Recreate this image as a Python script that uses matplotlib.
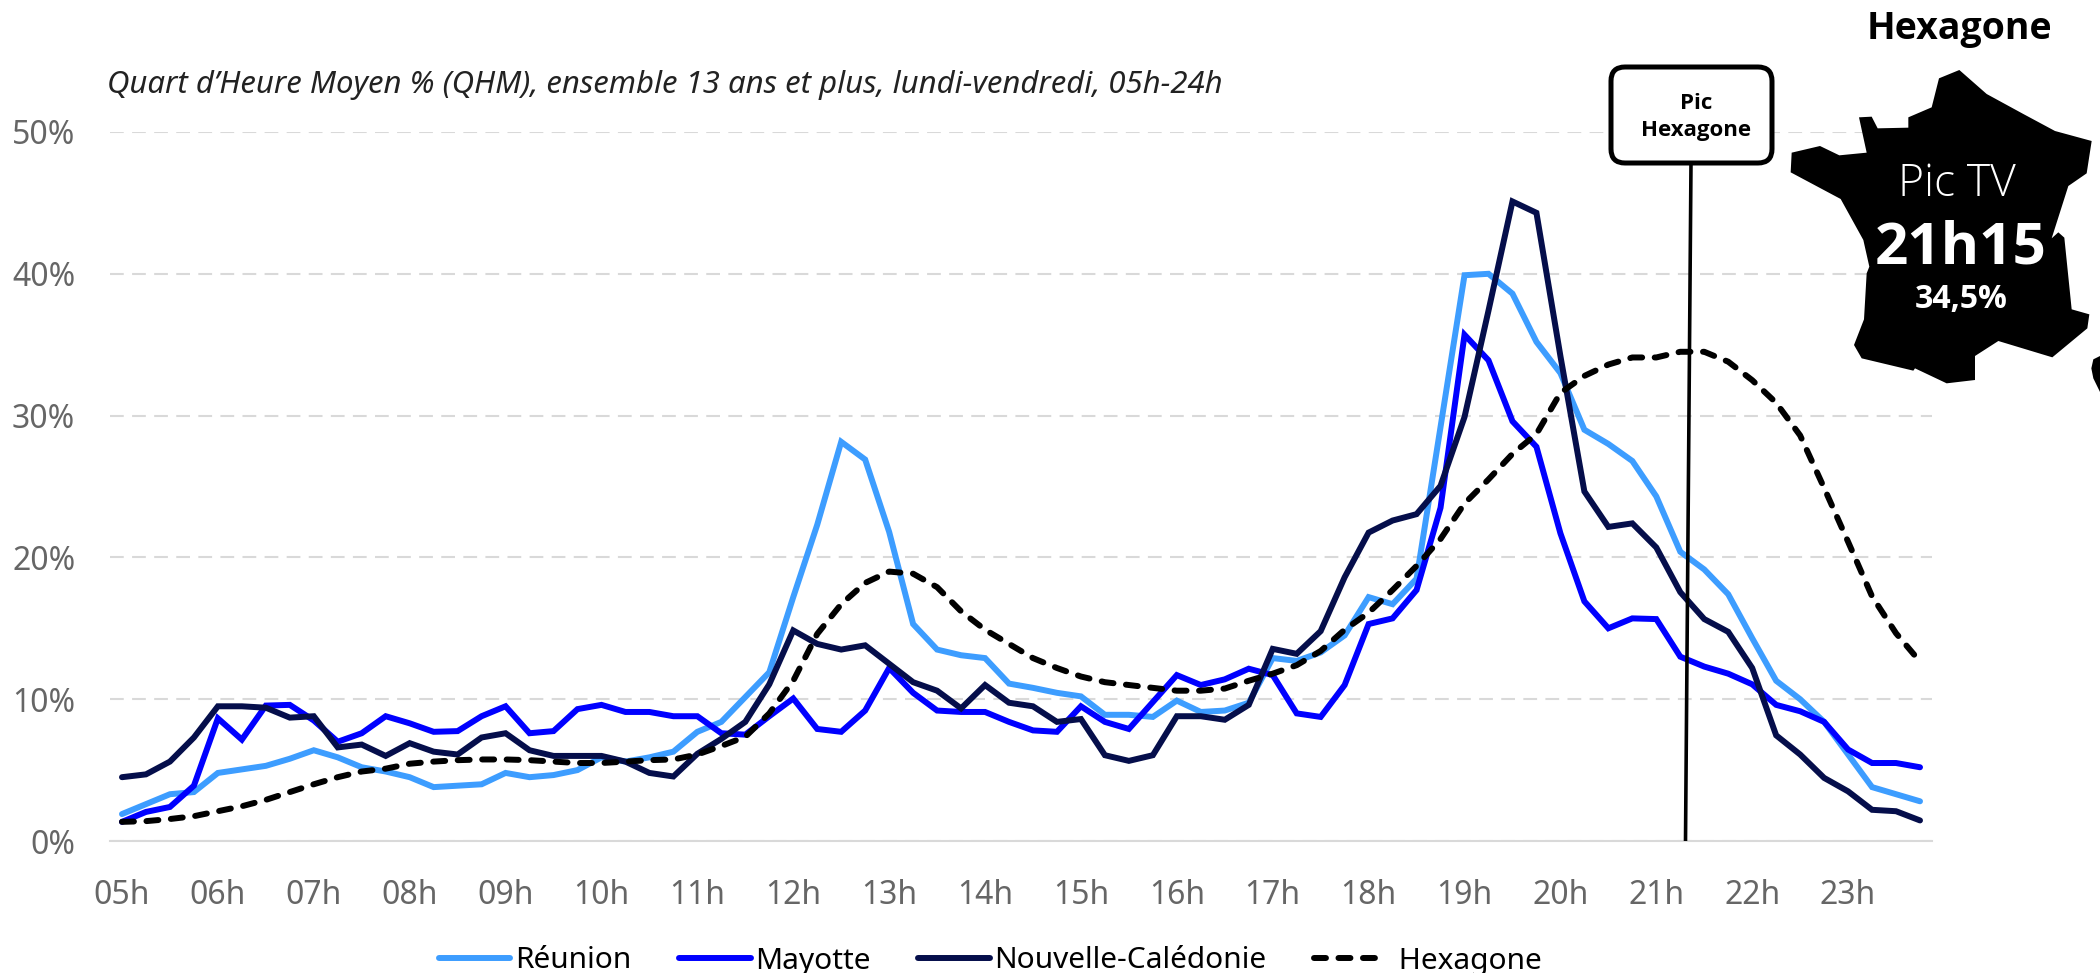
"""Audience TV par quart d'heure: Réunion, Mayotte, Nouvelle-Calédonie, Hexagone."""

import matplotlib
matplotlib.use("Agg")
import matplotlib.pyplot as plt
from matplotlib.patches import FancyBboxPatch, Polygon

plt.rcParams["font.family"] = ["Noto Sans", "DejaVu Sans"]

HOURS = ["05h", "06h", "07h", "08h", "09h", "10h", "11h", "12h", "13h", "14h",
         "15h", "16h", "17h", "18h", "19h", "20h", "21h", "22h", "23h"]
Y_TICKS = [0, 10, 20, 30, 40, 50]

REUNION = [1.9, 2.6, 3.3, 3.45, 4.8, 5.05, 5.3, 5.8, 6.4, 5.9, 5.2, 4.9, 4.5, 3.8, 3.9, 4.0,
           4.8, 4.5, 4.65, 5.0, 5.9, 5.6, 5.9, 6.3, 7.7, 8.4, 10.15, 11.9, 17.2, 22.3, 28.15, 26.9,
           21.8, 15.3, 13.5, 13.1, 12.9, 11.1, 10.8, 10.45, 10.2, 8.9, 8.9, 8.75, 9.9, 9.1,
           9.2, 9.75, 12.9, 12.7, 13.3, 14.5, 17.2, 16.7, 18.5, 29.2, 39.9, 40.0, 38.6, 35.2,
           33.0, 29.0, 28.0, 26.8, 24.3, 20.4, 19.15, 17.4, 14.3, 11.3, 10.0, 8.4, 6.1, 3.8, 3.3, 2.8]
MAYOTTE = [1.35, 2.05, 2.4, 3.9, 8.65, 7.15, 9.55, 9.6, 8.5, 7.0, 7.6, 8.8, 8.3, 7.7, 7.75, 8.8,
           9.5, 7.6, 7.75, 9.3, 9.6, 9.1, 9.1, 8.8, 8.8, 7.6, 7.5, 8.8, 10.05, 7.9, 7.7, 9.2,
           12.2, 10.45, 9.2, 9.1, 9.1, 8.4, 7.8, 7.7, 9.5, 8.4, 7.9, 9.8, 11.7, 11.0,
           11.4, 12.15, 11.7, 9.0, 8.75, 11.0, 15.3, 15.7, 17.7, 23.5, 35.7, 33.9, 29.6, 27.8,
           21.7, 16.9, 15.0, 15.7, 15.65, 13.0, 12.3, 11.8, 11.05, 9.6, 9.15, 8.4, 6.45, 5.5, 5.5, 5.2]
NOUVELLE_CALEDONIE = [4.5, 4.7, 5.6, 7.3, 9.5, 9.5, 9.4, 8.7, 8.8, 6.6, 6.8, 6.0, 6.9, 6.3, 6.1, 7.3,
                      7.6, 6.4, 6.0, 6.0, 6.0, 5.6, 4.8, 4.55, 6.15, 7.2, 8.4, 11.05, 14.85, 13.9, 13.5, 13.8,
                      12.5, 11.2, 10.6, 9.35, 11.0, 9.75, 9.5, 8.4, 8.6, 6.05, 5.65, 6.05, 8.8, 8.8,
                      8.55, 9.6, 13.55, 13.2, 14.8, 18.6, 21.75, 22.6, 23.05, 25.05, 29.9, 37.4, 45.1, 44.3,
                      34.2, 24.65, 22.15, 22.4, 20.7, 17.55, 15.65, 14.75, 12.2, 7.45, 6.1, 4.45, 3.5, 2.2, 2.1, 1.45]
HEXAGONE = [1.35, 1.4, 1.55, 1.75, 2.1, 2.45, 2.9, 3.45, 4.0, 4.5, 4.9, 5.1, 5.45, 5.6, 5.7, 5.75,
            5.75, 5.7, 5.6, 5.5, 5.5, 5.6, 5.7, 5.75, 6.1, 6.7, 7.35, 9.0, 11.3, 14.6, 16.7, 18.2,
            19.0, 18.85, 17.9, 16.2, 14.9, 13.9, 12.9, 12.2, 11.6, 11.2, 11.0, 10.8, 10.6, 10.6,
            10.75, 11.3, 11.8, 12.4, 13.4, 14.9, 16.1, 17.7, 19.4, 21.3, 23.8, 25.5, 27.3, 28.7,
            31.6, 32.8, 33.6, 34.1, 34.1, 34.5, 34.5, 33.8, 32.5, 30.9, 28.6, 24.9, 21.1, 17.25, 14.65, 12.65]
QUARTERS = list(range(len(HEXAGONE)))

W, H = 2100, 973
GRID = "#d9d9d9"
TICK = "#666666"
BOLD = "Open Sans"

FRANCE = [(628, 210), (710, 282), (820, 342), (915, 393), (1025, 423), (1010, 520), (955, 558),
          (905, 715), (925, 697), (943, 713), (965, 928), (1018, 943), (1012, 985), (907, 1072),
          (745, 1023), (675, 1068), (675, 1140), (590, 1150), (495, 1105), (490, 1112), (335, 1075),
          (312, 1035), (342, 958), (350, 820), (358, 800), (340, 720), (272, 597), (122, 517),
          (125, 458), (210, 438), (268, 466), (350, 458), (327, 352), (365, 350), (383, 385),
          (475, 383), (475, 352), (545, 322), (567, 235)]
CORSE = [(1050, 1068), (1030, 1078), (1024, 1105), (1030, 1135), (1050, 1176)]

fig = plt.figure(figsize=(W / 100, H / 100), dpi=100, facecolor="white")
ax = fig.add_axes([110 / W, (H - 841) / H, 1822 / W, 709 / H])

ax.plot(QUARTERS, REUNION, color="#3d9dff", lw=4.3, label="Réunion",
        solid_joinstyle="miter", solid_capstyle="round", clip_on=False, zorder=3)
ax.plot(QUARTERS, MAYOTTE, color="#0000ff", lw=4.3, label="Mayotte",
        solid_joinstyle="miter", solid_capstyle="round", clip_on=False, zorder=4)
ax.plot(QUARTERS, NOUVELLE_CALEDONIE, color="#050e4b", lw=4.3, label="Nouvelle-Calédonie",
        solid_joinstyle="miter", solid_capstyle="round", clip_on=False, zorder=5)
ax.plot(QUARTERS, HEXAGONE, color="black", lw=4.3, label=" Hexagone",
        dashes=(2.0, 2.1), dash_capstyle="round", clip_on=False, zorder=6)

ax.set_xlim(-0.5, 75.5)
ax.set_ylim(0, 50)
ax.set_xticks(QUARTERS[::4], HOURS)
ax.set_yticks(Y_TICKS, [f"{v}%" for v in Y_TICKS])
ax.tick_params(length=0, labelsize=23, labelcolor=TICK)
ax.tick_params(axis="x", pad=27)
ax.tick_params(axis="y", pad=25)
ax.set_axisbelow(True)
for t in ax.get_yticklabels():
    t.set_ha("right")
ax.grid(axis="y", color=GRID, lw=1.5, dashes=(6.6, 4))
for side in ["top", "left", "right"]:
    ax.spines[side].set_visible(False)
ax.spines["bottom"].set_color(GRID)
ax.spines["bottom"].set_linewidth(1.5)

fig.legend(loc="center", bbox_to_anchor=(990 / W, (H - 961) / H), ncol=4, frameon=False,
           fontsize=21.5, handlelength=2.4, handletextpad=0.15, columnspacing=1.6)

# everything hand-placed goes on a pixel overlay
ov = fig.add_axes([0, 0, 1, 1], zorder=10)
ov.set_xlim(0, W)
ov.set_ylim(H, 0)
ov.axis("off")

ov.text(107, 85, "Quart d’Heure Moyen % (QHM), ensemble 13 ans et plus, lundi-vendredi, 05h-24h",
        fontsize=22.4, style="italic", color="#222222", ha="left", va="center")

ov.plot([1691, 1685.5], [163, 841], color="black", lw=2.6, solid_capstyle="butt")
ov.add_patch(FancyBboxPatch((1625, 81), 133, 68, boxstyle="round,pad=14,rounding_size=14",
                            fc="white", ec="black", lw=3.6))
ov.text(1696, 117, "Pic\nHexagone", fontsize=16, fontweight="bold", family=BOLD, ha="center", va="center",
        linespacing=1.4)

ov.add_patch(Polygon([(1750 + x / 3, y / 3) for x, y in FRANCE], closed=True, fc="black", ec="none"))
ov.add_patch(Polygon([(1750 + x / 3, y / 3) for x, y in CORSE], closed=True, fc="black", ec="none"))

ov.text(1959, 29, "Hexagone", fontsize=27, fontweight="bold", family=BOLD, ha="center", va="center")
ov.text(1957, 185, "Pic TV", fontsize=32, color="white", fontweight="light", family="Open Sans",
        ha="center", va="center")
ov.text(1961, 249, "21h15", fontsize=42, color="white", fontweight="bold", family=BOLD, ha="center", va="center")
ov.text(1961, 300, "34,5%", fontsize=23, color="white", fontweight="bold", family=BOLD, ha="center", va="center")

fig.savefig("out.png", dpi=100, facecolor="white")
